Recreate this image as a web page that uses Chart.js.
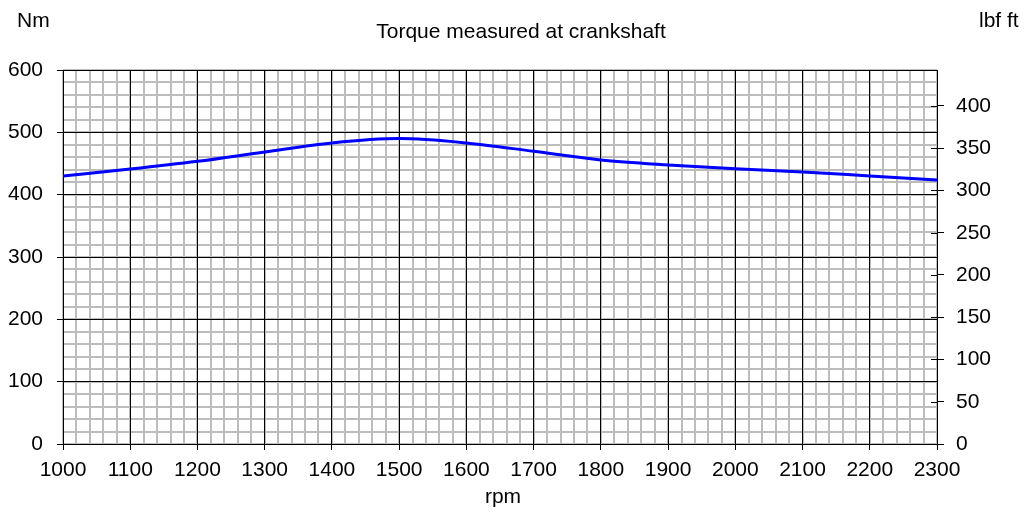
<!DOCTYPE html>
<html>
<head>
<meta charset="utf-8">
<script src="https://cdn.jsdelivr.net/npm/chart.js@4"></script>
<style>
  html, body { margin: 0; padding: 0; background: #fff; }
  #wrap { width: 1025px; height: 512px; position: relative; }
</style>
</head>
<body>
<div id="wrap"><canvas id="myChart"></canvas></div>
<script>
const rpm = [1000, 1100, 1200, 1300, 1400, 1500, 1600, 1700, 1800, 1900, 2000, 2100, 2200, 2300];
const torqueNm = [430, 441, 453.5, 468.5, 483, 490, 483, 469.5, 455.5, 447.5, 441.5, 436.5, 430, 423.5];
const titleText = "Torque measured at crankshaft";
const leftUnit = "Nm";
const rightUnit = "lbf ft";
const xUnit = "rpm";
const NM_PER_LBFFT = 1.3558179;

const font = { family: "'Liberation Sans', Arial, sans-serif", size: 21 };
const minorGrid = "#bdbdbd";
const plain = (v) => String(v);

// titles + inner half of the right-hand tick marks
const extras = {
  id: "extras",
  afterDraw(chart) {
    const { ctx, chartArea } = chart;
    const y2 = chart.scales.y2;
    ctx.save();
    ctx.strokeStyle = "#000";
    ctx.lineWidth = 1;
    y2.ticks.forEach((t) => {
      const y = Math.round(y2.getPixelForValue(t.value)) + 0.5;
      ctx.beginPath();
      ctx.moveTo(chartArea.right - 6, y);
      ctx.lineTo(chartArea.right, y);
      ctx.stroke();
    });
    ctx.fillStyle = "#000";
    ctx.font = "21px " + font.family;
    ctx.textBaseline = "alphabetic";
    ctx.textAlign = "left";
    ctx.fillText(leftUnit, 17, 27);
    ctx.fillText(rightUnit, 979, 27);
    ctx.textAlign = "center";
    ctx.fillText(titleText, 521, 38);
    ctx.fillText(xUnit, 503, 503);
    ctx.restore();
  },
};

const ctx = document.getElementById("myChart");
const myChart = new Chart(ctx, {
  type: "line",
  data: {
    datasets: [
      {
        data: rpm.map((r, i) => ({ x: r, y: torqueNm[i] })),
        xAxisID: "x",
        yAxisID: "y",
        borderColor: "#0000ff",
        borderWidth: 3,
        pointRadius: 0,
        fill: false,
        cubicInterpolationMode: "monotone",
      },
    ],
  },
  options: {
    responsive: true,
    maintainAspectRatio: false,
    animation: false,
    layout: { padding: { top: 70, left: 0, right: 0, bottom: 0 } },
    plugins: { legend: { display: false }, tooltip: { enabled: false } },
    scales: {
      xm: {
        type: "linear",
        position: "bottom",
        min: 1000,
        max: 2300,
        ticks: { display: false, stepSize: 20 },
        grid: { color: minorGrid, lineWidth: 2, drawTicks: false, z: -2 },
        border: { display: false },
        afterFit: (s) => { s.height = 0; },
      },
      ym: {
        type: "linear",
        position: "left",
        min: 0,
        max: 600,
        ticks: { display: false, stepSize: 20 },
        grid: { color: minorGrid, lineWidth: 2, drawTicks: false, z: -2 },
        border: { display: false },
        afterFit: (s) => { s.width = 0; },
      },
      x: {
        type: "linear",
        position: "bottom",
        min: 1000,
        max: 2300,
        ticks: { stepSize: 100, color: "#000", font, padding: 8, maxRotation: 0, callback: plain },
        grid: { color: "#000", lineWidth: 1, tickLength: 6, tickColor: "#000" },
        border: { color: "#000", width: 1 },
        afterFit: (s) => { s.height = 68; },
      },
      y: {
        type: "linear",
        position: "left",
        min: 0,
        max: 600,
        ticks: { stepSize: 100, color: "#000", font, padding: 14, callback: plain },
        grid: { color: "#000", lineWidth: 1, tickLength: 6, tickColor: "#000" },
        border: { color: "#000", width: 1 },
        afterFit: (s) => { s.width = 63; },
      },
      y2: {
        type: "linear",
        position: "right",
        min: 0,
        max: 600 / NM_PER_LBFFT,
        ticks: { stepSize: 50, includeBounds: false, color: "#000", font, padding: 12, callback: plain },
        grid: { drawOnChartArea: false, tickLength: 7, tickColor: "#000" },
        border: { color: "#000", width: 1 },
        afterFit: (s) => { s.width = 88; },
      },
    },
  },
  plugins: [extras],
});
</script>
</body>
</html>
